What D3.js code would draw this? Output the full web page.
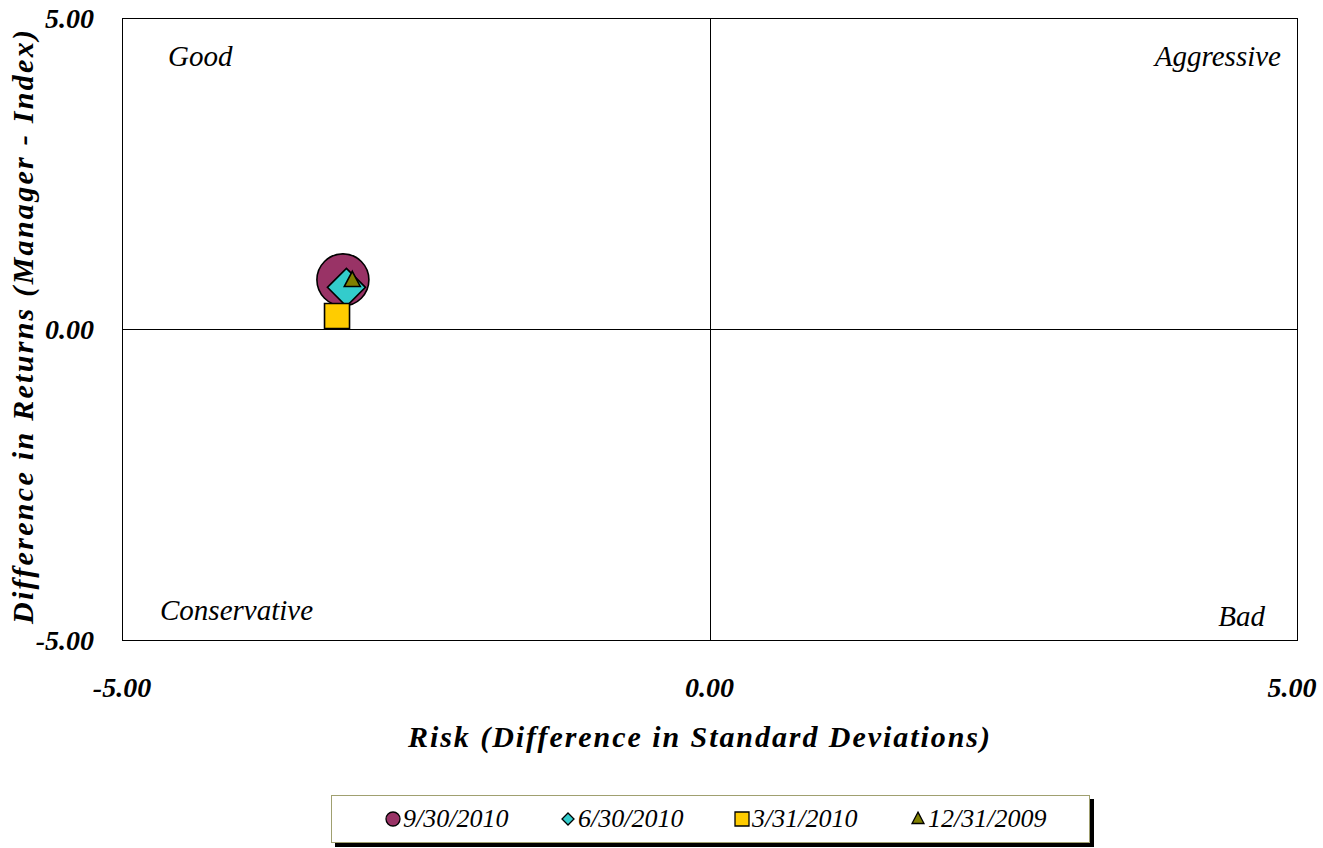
<!DOCTYPE html>
<html>
<head>
<meta charset="utf-8">
<script src="https://cdn.jsdelivr.net/npm/d3@7"></script>
<style>
  body { margin: 0; background: #fff; }
  text { font-family: "Palatino Linotype", "Book Antiqua", Palatino, "Liberation Serif", serif; font-style: italic; }
</style>
</head>
<body>
<div id="main"></div>
<script>
var width = 1323,
    height = 848;

// data
var series = ["9/30/2010", "6/30/2010", "3/31/2010", "12/31/2009"];
var riskValues = [-3.12, -3.09, -3.17, -3.04];
var returnValues = [0.79, 0.67, 0.21, 0.78];
var seriesColors = ["#993366", "#33cccc", "#ffcc00", "#808000"];
var seriesShapes = ["circle", "diamond", "square", "triangle"];
var tickValues = [-5, 0, 5];
var quadrantLabels = ["Good", "Aggressive", "Conservative", "Bad"];

var plot = { left: 122, right: 1297, top: 18, bottom: 640 };

var x = d3.scaleLinear().domain([-5, 5]).range([plot.left, plot.right]);
var y = d3.scaleLinear().domain([-5, 5]).range([plot.bottom, plot.top]);

// hyphen minus like the original
var fmt = function(d) { return d3.format(".2f")(d).replace("\u2212", "-"); };

var svg = d3.select("#main").append("svg")
    .attr("width", width)
    .attr("height", height);

// plot frame
svg.append("rect")
    .attr("x", plot.left + 0.5)
    .attr("y", plot.top + 0.5)
    .attr("width", plot.right - plot.left)
    .attr("height", plot.bottom - plot.top)
    .attr("fill", "#fff")
    .attr("stroke", "#000")
    .attr("stroke-width", 1);

// zero lines
svg.append("line")
    .attr("x1", Math.round(x(0)) + 0.5).attr("x2", Math.round(x(0)) + 0.5)
    .attr("y1", plot.top).attr("y2", plot.bottom)
    .attr("stroke", "#000");
svg.append("line")
    .attr("x1", plot.left).attr("x2", plot.right)
    .attr("y1", Math.round(y(0)) + 0.5).attr("y2", Math.round(y(0)) + 0.5)
    .attr("stroke", "#000");

// tick labels
svg.selectAll("text.ytick")
    .data(tickValues)
    .enter().append("text")
    .attr("class", "ytick")
    .attr("x", 94)
    .attr("y", function(d) { return y(d) + 10; })
    .attr("text-anchor", "end")
    .attr("font-size", 28)
    .attr("font-weight", "bold")
    .text(fmt);

svg.selectAll("text.xtick")
    .data(tickValues)
    .enter().append("text")
    .attr("class", "xtick")
    .attr("x", function(d, i) { return i == 2 ? x(d) - 5 : x(d); })
    .attr("y", 697)
    .attr("text-anchor", "middle")
    .attr("font-size", 28)
    .attr("font-weight", "bold")
    .text(fmt);

// axis titles
svg.append("text")
    .attr("x", 699)
    .attr("y", 747)
    .attr("text-anchor", "middle")
    .attr("font-size", 30)
    .attr("font-weight", "bold")
    .attr("textLength", 582)
    .attr("lengthAdjust", "spacing")
    .text("Risk (Difference in Standard Deviations)");

svg.append("text")
    .attr("transform", "translate(33,327)rotate(-90)")
    .attr("text-anchor", "middle")
    .attr("font-size", 30)
    .attr("font-weight", "bold")
    .attr("textLength", 594)
    .attr("lengthAdjust", "spacing")
    .text("Difference in Returns (Manager - Index)");

// quadrant labels
var qpos = [
  { x: 168, y: 66, anchor: "start" },
  { x: 1281, y: 66, anchor: "end" },
  { x: 160, y: 620, anchor: "start" },
  { x: 1265, y: 626, anchor: "end" }
];
svg.selectAll("text.quad")
    .data(quadrantLabels)
    .enter().append("text")
    .attr("class", "quad")
    .attr("x", function(d, i) { return qpos[i].x; })
    .attr("y", function(d, i) { return qpos[i].y; })
    .attr("text-anchor", function(d, i) { return qpos[i].anchor; })
    .attr("font-size", 29)
    .text(function(d) { return d; });

// marker shapes
function shapePath(shape, s) {
  // s = half size
  if (shape == "circle") {
    return "M" + (-s) + ",0A" + s + "," + s + " 0 1,0 " + s + ",0A" + s + "," + s + " 0 1,0 " + (-s) + ",0Z";
  } else if (shape == "diamond") {
    return "M0," + (-s) + "L" + s + ",0L0," + s + "L" + (-s) + ",0Z";
  } else if (shape == "square") {
    return "M" + (-s) + "," + (-s) + "H" + s + "V" + s + "H" + (-s) + "Z";
  } else {
    return "M0," + (-s * 1.15) + "L" + s + "," + (s * 0.75) + "L" + (-s) + "," + (s * 0.75) + "Z";
  }
}
var markerSize = [26, 19, 12.5, 8];

svg.selectAll("path.pt")
    .data(series)
    .enter().append("path")
    .attr("class", "pt")
    .attr("transform", function(d, i) { return "translate(" + x(riskValues[i]) + "," + y(returnValues[i]) + ")"; })
    .attr("d", function(d, i) { return shapePath(seriesShapes[i], markerSize[i]); })
    .attr("fill", function(d, i) { return seriesColors[i]; })
    .attr("stroke", "#000")
    .attr("stroke-width", 1.6);

// legend
var lg = svg.append("g");
lg.append("rect")
    .attr("x", 335).attr("y", 799)
    .attr("width", 759).attr("height", 48)
    .attr("fill", "#000");
lg.append("rect")
    .attr("x", 331.5).attr("y", 795.5)
    .attr("width", 758).attr("height", 47)
    .attr("fill", "#fff")
    .attr("stroke", "#a0a070")
    .attr("stroke-width", 1);

var legendX = [393, 568, 742, 918];
var legendSize = [7, 6, 7, 6];
var items = lg.selectAll("g.item")
    .data(series)
    .enter().append("g")
    .attr("class", "item")
    .attr("transform", function(d, i) { return "translate(" + legendX[i] + ",819)"; });

items.append("path")
    .attr("d", function(d, i) { return shapePath(seriesShapes[i], legendSize[i]); })
    .attr("fill", function(d, i) { return seriesColors[i]; })
    .attr("stroke", "#000")
    .attr("stroke-width", 1.3);

items.append("text")
    .attr("x", 10)
    .attr("y", 8)
    .attr("font-size", 26)
    .text(function(d) { return d; });
</script>
</body>
</html>
